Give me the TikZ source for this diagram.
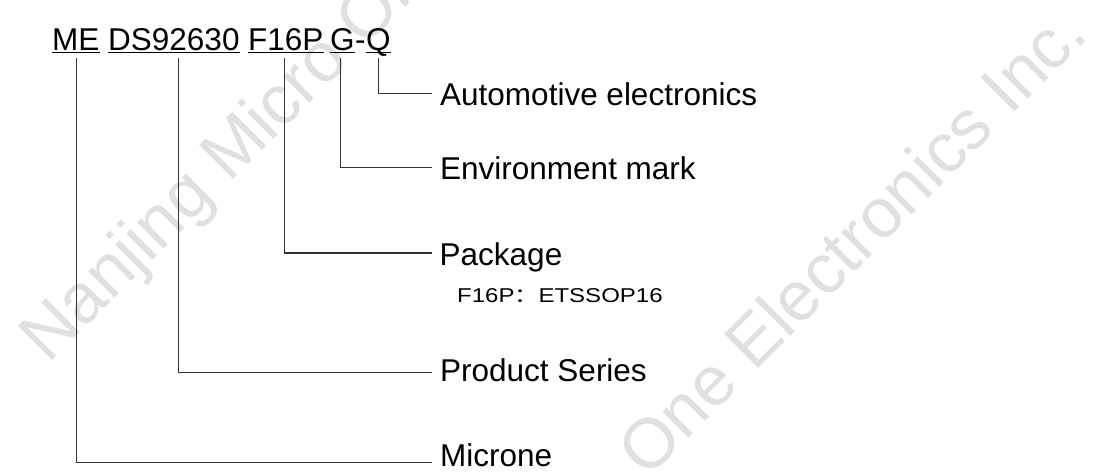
\documentclass[tikz,border=0pt]{standalone}
\usepackage{fontspec}
\setmainfont{Liberation Sans}
\newfontfamily\cjkfont{Noto Sans CJK SC}
\begin{document}
\begin{tikzpicture}[x=1pt,y=-1pt,
  title/.style={font=\fontsize{31.5}{36}\selectfont, inner sep=0pt, anchor=base west},
  lbl/.style={font=\fontsize{31.5}{36}\selectfont, inner sep=0pt, anchor=base west},
  note/.style={font=\fontsize{20}{24}\selectfont, inner sep=0pt, anchor=base west},
  conn/.style={draw=black!80, line width=1.1pt},
  uline/.style={draw=black, line width=1.8pt},
  wmark/.style={font=\fontsize{70}{74}\selectfont, text=black!12, inner sep=0pt, anchor=base west, rotate=45}]
\clip (0,0) rectangle (1104,472);
\fill[white] (0,0) rectangle (1104,472);
% watermark
\node[wmark] (wm1) at (48,365) {Nanjing Micro One Electronics Inc.};
\node[wmark] (wm2) at (331,796) {Nanjing Micro One Electronics Inc.};
% part number
\node[title] (me) at (52,50) {ME};
\node[title] (ds) at (108,50) {DS92630};
\node[title] (pk) at (248,50) {F16P};
\node[title] (g) at (330,50) {G};
\node[title] (dash) at (355,50) {-};
\node[title] (q) at (366,50) {Q};
\foreach \n in {me,ds,pk,g,q}
  \draw[uline] ([yshift=-2.5pt]\n.base west) -- ([yshift=-2.5pt]\n.base east);
% labels
\node[lbl] (auto) at (440,105) {Automotive electronics};
\node[lbl] (env) at (440,179.3) {Environment mark};
\node[lbl] (pkg) at (439.5,265) {Package};
\node[note] (pkgn) at (457,302) {\scalebox{1.2}[1]{F16P{\cjkfont ：}ETSSOP16}};
\node[lbl] (prod) at (440,381.7) {Product Series};
\node[lbl] (mic) at (440,466) {Microne};
% connectors
\draw[conn] ([yshift=-8pt]q.base) |- ([xshift=-8.3pt,yshift=11.7pt]auto.base west);
\draw[conn] ([xshift=-2pt,yshift=-8pt]g.base) |- ([xshift=-8.3pt,yshift=11.5pt]env.base west);
\draw[conn] ([xshift=-1.6pt,yshift=-8pt]pk.base) |- ([xshift=-7.8pt,yshift=12pt]pkg.base west);
\draw[conn] ([xshift=4.3pt,yshift=-8pt]ds.base) |- ([xshift=-8.3pt,yshift=9pt]prod.base west);
\draw[conn] ([xshift=1pt,yshift=-8pt]me.base) |- ([xshift=-8.3pt,yshift=3.7pt]mic.base west);
\end{tikzpicture}
\end{document}
